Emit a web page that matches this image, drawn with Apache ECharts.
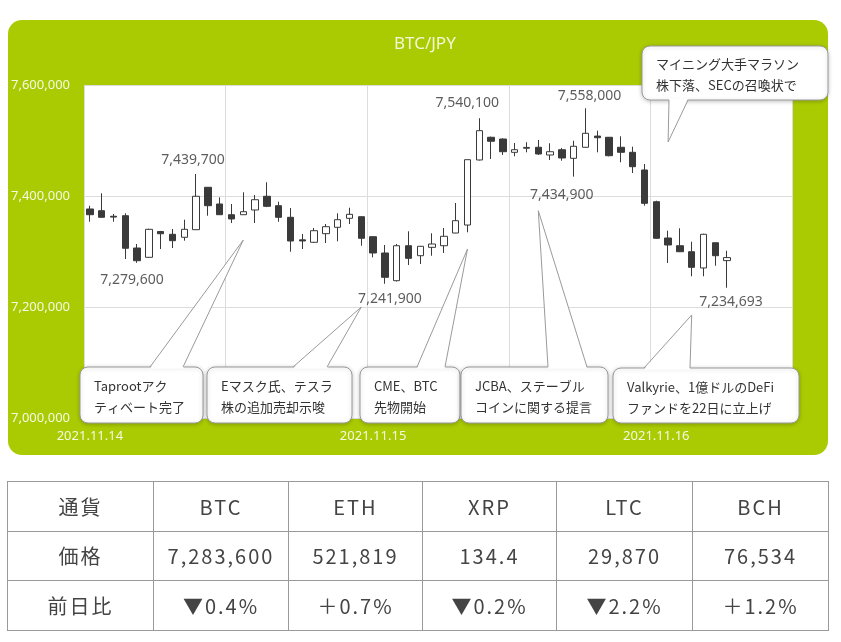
<!DOCTYPE html>
<html>
<head>
<meta charset="utf-8">
<script src="https://cdn.jsdelivr.net/npm/echarts@6/dist/echarts.min.js"></script>
<style>
  html, body { margin: 0; padding: 0; background: #fff; }
  #page { position: relative; width: 841px; height: 642px; overflow: hidden; }
  #panel { position: absolute; left: 8px; top: 20px; width: 820px; height: 435px; border-radius: 14px; background: #aacb02; }
  #chart { position: absolute; left: 0; top: 0; width: 841px; height: 642px; }
  #tbl { position: absolute; left: 7px; top: 481px; border-collapse: collapse; table-layout: fixed; font-family: "Noto Sans CJK JP", "Noto Sans", sans-serif; font-size: 20px; color: #444; }
  #tbl td { border: 1.5px solid #9a9a9a; height: 49.5px; text-align: center; letter-spacing: 2px; padding: 0; font-weight: 400; box-sizing: border-box; }
</style>
</head>
<body>
<div id="page">
  <div id="panel"></div>
  <div id="chart"></div>
  <table id="tbl"></table>
</div>
<script>
// ---- data ----
const dates = ['2021.11.14', '2021.11.15', '2021.11.16'];
const slotCount = 60;
const opens  = [7376600,7373500,7363500,7364500,7306300,7289500,7336000,7331000,7325600,7339300,
                7415700,7385600,7366300,7366300,7374800,7399500,7382500,7361600,7321000,7316600,
                7332100,7343600,7359800,7362700,7326700,7297300,7247400,7310400,7292400,7307500,
                7310400,7333300,7347700,7464900,7505800,7502700,7478700,7486000,7487800,7473900,
                7483400,7467900,7487800,7508000,7505800,7487800,7478700,7446900,7389700,7324300,
                7310400,7299600,7270300,7315800,7283600];
const closes = [7366300,7361600,7362000,7305800,7283400,7340000,7332000,7319500,7340000,7399500,
                7382500,7366300,7358600,7371700,7393300,7381400,7361600,7318900,7319000,7337500,
                7344700,7357300,7367000,7323800,7297300,7253500,7310400,7287700,7309400,7313500,
                7327400,7355500,7465400,7517700,7498600,7479800,7483400,7487500,7475700,7479800,
                7468500,7489600,7513000,7505000,7472600,7478700,7452800,7386800,7323800,7311700,
                7299600,7271500,7331000,7292400,7289000];
const lows   = [7353700,7361000,7353700,7286500,7279600,7288500,7304500,7306300,7319500,7338700,
                7364500,7366000,7351300,7366000,7351300,7380000,7353700,7299600,7304500,7315300,
                7315300,7318400,7349500,7310400,7289500,7241900,7246000,7275700,7277500,7292400,
                7297300,7333000,7334600,7464000,7466700,7473900,7471500,7478700,7474000,7464900,
                7463600,7434900,7487000,7478700,7471500,7460700,7441400,7382500,7323000,7279300,
                7299000,7255300,7255300,7274400,7234693];
const highs  = [7382500,7404900,7367600,7368800,7313500,7341000,7337000,7340500,7357300,7439700,
                7416000,7397600,7385600,7406700,7401800,7424700,7389700,7378400,7331500,7342300,
                7349500,7368800,7378900,7363000,7327000,7311700,7313500,7336400,7310000,7332800,
                7342300,7387400,7466000,7540100,7507000,7504000,7495500,7496800,7500900,7495000,
                7486500,7499600,7558000,7517700,7506000,7507600,7488800,7457700,7391500,7337500,
                7341800,7317600,7332000,7316000,7301400];
// annotated highs / lows
const markIndex = [9, 4, 33, 25, 42, 41, 54];
const markValue = [7439700, 7279600, 7540100, 7241900, 7558000, 7434900, 7234693];
const markText  = ['7,439,700', '7,279,600', '7,540,100', '7,241,900', '7,558,000', '7,434,900', '7,234,693'];
// news callouts
const calloutTexts = [
  'Taprootアク\nティベート完了',
  'Eマスク氏、テスラ\n株の追加売却示唆',
  'CME、BTC\n先物開始',
  'JCBA、ステーブル\nコインに関する提言',
  'Valkyrie、1億ドルのDeFi\nファンドを22日に立上げ',
  'マイニング大手マラソン\n株下落、SECの召喚状で'
];
const calloutTipIndex = [12.93, 23.31, 31.87, 38.23, 51.11, 48.57];
const calloutTipValue = [7320700, 7200000, 7304500, 7373500, 7185600, 7497300];
// y-axis
const yMin = 7000000, yMax = 7600000, yStep = 200000;
// table
const tblHeader = ['通貨', 'BTC', 'ETH', 'XRP', 'LTC', 'BCH'];
const tblPrice  = ['価格', '7,283,600', '521,819', '134.4', '29,870', '76,534'];
const tblChange = ['前日比', '▼0.4%', '＋0.7%', '▼0.2%', '▼2.2%', '＋1.2%'];

// ---- layout / style (not data) ----
const markLabelOffset = [[-3,-14],[-5,17],[-12,-15],[5,15],[4,-12],[-12,18],[4,14]];
const calloutBoxes = [
  {x: 80,  y: 367, w: 123, h: 56, b: [150, 183], edge: 'top'},
  {x: 207, y: 367, w: 145, h: 56, b: [293, 327], edge: 'top'},
  {x: 360, y: 367, w: 100, h: 56, b: [417, 445], edge: 'top'},
  {x: 461, y: 367, w: 147, h: 56, b: [548, 587], edge: 'top'},
  {x: 613, y: 368, w: 186, h: 55, b: [644, 690], edge: 'top'},
  {x: 642, y: 46,  w: 186, h: 54, b: [669, 688], edge: 'bottom'}
];
const colW = [146, 135, 134, 134, 136, 136];

// ---- build ----
const categories = [];
dates.forEach(d => { for (let h = 0; h < 24; h++) categories.push(d + ' ' + h + ':00'); });
categories.length = slotCount;
const candleData = opens.map((o, i) => [o, closes[i], lows[i], highs[i]]);
const markData = markIndex.map((idx, i) => ({
  value: [idx, markValue[i]],
  label: { offset: markLabelOffset[i], formatter: markText[i] }
}));

const axisTextColor = '#f4f9e4';
const chart = echarts.init(document.getElementById('chart'), null, {renderer: 'canvas'});
chart.setOption({
  animation: false,
  backgroundColor: 'transparent',
  title: {
    text: 'BTC/JPY', left: 389, top: 31,
    textStyle: { color: '#f1f8d6', fontSize: 17, fontWeight: 'normal', fontFamily: 'Noto Sans' }
  },
  grid: {
    left: 84, right: 49, top: 85, bottom: 224,
    show: true, backgroundColor: '#ffffff', borderWidth: 0,
    containLabel: false, outerBoundsMode: 'none'
  },
  xAxis: {
    type: 'category', data: categories, boundaryGap: true,
    axisLine: { show: false }, axisTick: { show: false },
    axisLabel: {
      interval: 23, margin: 12, color: axisTextColor, fontSize: 13, fontFamily: 'Noto Sans',
      formatter: v => v.split(' ')[0]
    },
    splitLine: { show: true, interval: 11, lineStyle: { color: '#dcdcdc', width: 1 } }
  },
  yAxis: {
    type: 'value', min: yMin, max: yMax, interval: yStep, scale: true,
    axisLine: { show: false }, axisTick: { show: false },
    axisLabel: {
      margin: 14, color: axisTextColor, fontSize: 13, fontFamily: 'Noto Sans',
      formatter: v => v.toLocaleString('en-US')
    },
    splitLine: { lineStyle: { color: '#dcdcdc', width: 1 } }
  },
  series: [
    {
      type: 'candlestick', data: candleData, barWidth: 7,
      itemStyle: { color: '#ffffff', color0: '#3a3a3a', borderColor: '#3a3a3a', borderColor0: '#3a3a3a', borderWidth: 1 }
    },
    {
      type: 'scatter', data: markData, symbolSize: 1, z: 5,
      itemStyle: { color: 'rgba(0,0,0,0)' },
      label: { show: true, position: 'inside', color: '#333', fontSize: 14, fontFamily: 'Noto Sans' }
    }
  ]
});

// callouts
const els = [];
calloutBoxes.forEach((bx, i) => {
  const tip = chart.convertToPixel({gridIndex: 0}, [calloutTipIndex[i], calloutTipValue[i]]);
  const ey = bx.edge === 'top' ? bx.y : bx.y + bx.h;
  const inset = bx.edge === 'top' ? 1.5 : -1.5;
  els.push({
    type: 'rect', z: 100,
    shape: { x: bx.x, y: bx.y, width: bx.w, height: bx.h, r: 8 },
    style: { fill: '#fff', stroke: '#9a9a9a', lineWidth: 1, shadowBlur: 4, shadowOffsetY: 1, shadowColor: 'rgba(0,0,0,0.22)' }
  });
  els.push({
    type: 'polygon', z: 101,
    shape: { points: [[bx.b[0], ey + inset], tip, [bx.b[1], ey + inset]] },
    style: { fill: '#fff', stroke: null }
  });
  els.push({
    type: 'polyline', z: 102,
    shape: { points: [[bx.b[0], ey], tip, [bx.b[1], ey]] },
    style: { stroke: '#9a9a9a', lineWidth: 1, fill: null }
  });
  els.push({
    type: 'text', z: 103,
    style: {
      x: bx.x + 14, y: bx.y + bx.h / 2 + 2, text: calloutTexts[i],
      font: '13px "Noto Sans CJK JP", "Noto Sans"', lineHeight: 21,
      fill: '#333', verticalAlign: 'middle', align: 'left'
    }
  });
});
chart.setOption({ graphic: { elements: els } });

// table
const tbl = document.getElementById('tbl');
const cg = document.createElement('colgroup');
colW.forEach(w => { const c = document.createElement('col'); c.style.width = w + 'px'; cg.appendChild(c); });
tbl.appendChild(cg);
tbl.style.width = colW.reduce((a, b) => a + b, 0) + 'px';
[tblHeader, tblPrice, tblChange].forEach(row => {
  const tr = document.createElement('tr');
  row.forEach(t => {
    const td = document.createElement('td');
    td.textContent = t;
    tr.appendChild(td);
  });
  tbl.appendChild(tr);
});
</script>
</body>
</html>
